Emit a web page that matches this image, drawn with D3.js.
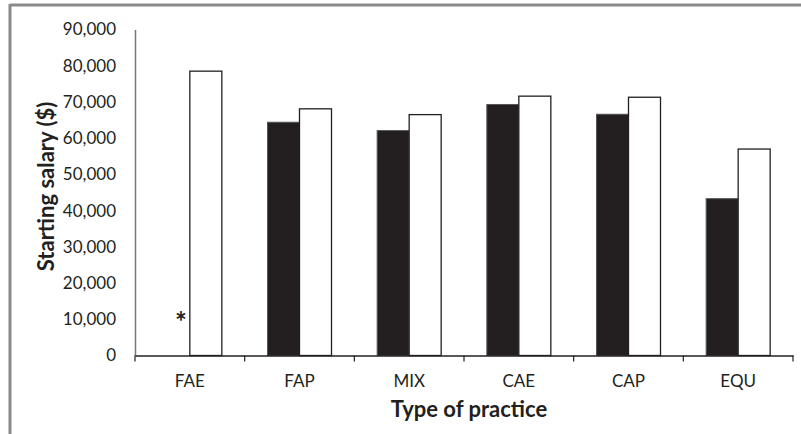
<!DOCTYPE html>
<html><head><meta charset="utf-8">
<script src="https://cdn.jsdelivr.net/npm/d3@7"></script>
<style>body{margin:0;background:#fff}svg{display:block}text{font-family:Lato,"Open Sans",sans-serif;fill:#231f20}</style>
</head><body>
<script>
const categories = ["FAE","FAP","MIX","CAE","CAP","EQU"];
const seriesBlack = [null, 64400, 62100, 69300, 66600, 43300];
const seriesWhite = [78500, 68100, 66500, 71600, 71300, 57000];
const yTicks = [0,10000,20000,30000,40000,50000,60000,70000,80000,90000];

const W=801,H=434;
const svg=d3.select("body").append("svg").attr("width",W).attr("height",H);
// frame
svg.append("line").attr("x1",10).attr("x2",W).attr("y1",5).attr("y2",5).attr("stroke","#8a8a8c").attr("stroke-width",3);
svg.append("line").attr("x1",10).attr("x2",10).attr("y1",4).attr("y2",H).attr("stroke","#8a8a8c").attr("stroke-width",3);

const x0=135,x1=793,yTop=29.5,yBot=355.5;
const x=d3.scaleBand().domain(categories).range([x0,x1]).paddingInner(0).paddingOuter(0);
const y=d3.scaleLinear().domain([0,90000]).range([yBot,yTop]);
const bw=32;

const g=svg.append("g");
categories.forEach((c,i)=>{
  const cx=x(c)+x.bandwidth()/2;
  if(seriesBlack[i]!=null){
    g.append("rect").attr("x",cx-bw).attr("width",bw).attr("y",y(seriesBlack[i])).attr("height",yBot-y(seriesBlack[i]))
     .attr("fill","#231f20").attr("stroke","#555").attr("stroke-width",1);
  } else {
    g.append("text").attr("x",cx-9).attr("y",y(10000)+13).attr("text-anchor","middle").attr("font-size",28).attr("font-weight","bold").text("*");
  }
  g.append("rect").attr("x",cx).attr("width",bw).attr("y",y(seriesWhite[i])).attr("height",yBot-y(seriesWhite[i]))
   .attr("fill","#fff").attr("stroke","#231f20").attr("stroke-width",1.3);
});

// y axis
const ya=svg.append("g").attr("transform",`translate(${x0},0)`).call(d3.axisLeft(y).tickValues(yTicks).tickSize(0).tickPadding(19).tickFormat(d3.format(",")));
ya.select(".domain").attr("stroke","#777").attr("stroke-width",1.5);
ya.selectAll("text").attr("font-size",17).attr("fill","#231f20").style("font-family","Lato");
// x axis
const xa=svg.append("g").attr("transform",`translate(0,${yBot})`).call(d3.axisBottom(x).tickSize(0).tickPadding(19));
xa.select(".domain").attr("stroke","#231f20").attr("stroke-width",1.3);
xa.selectAll("text").attr("font-size",17).attr("fill","#231f20").style("font-family","Lato");
// category boundary ticks
const bounds=categories.map(c=>x(c)).concat([x1]);
svg.append("g").selectAll("line").data(bounds).join("line").attr("x1",d=>d).attr("x2",d=>d).attr("y1",yBot).attr("y2",yBot+6).attr("stroke","#231f20").attr("stroke-width",1.2);

svg.append("text").attr("x",469).attr("y",417).attr("text-anchor","middle").attr("font-size",22).attr("font-weight","bold").text("Type of practice");
svg.append("text").attr("transform",`translate(54,186.5) rotate(-90)`).attr("text-anchor","middle").attr("font-size",22).attr("font-weight","bold").text("Starting salary ($)");
</script>
</body></html>
